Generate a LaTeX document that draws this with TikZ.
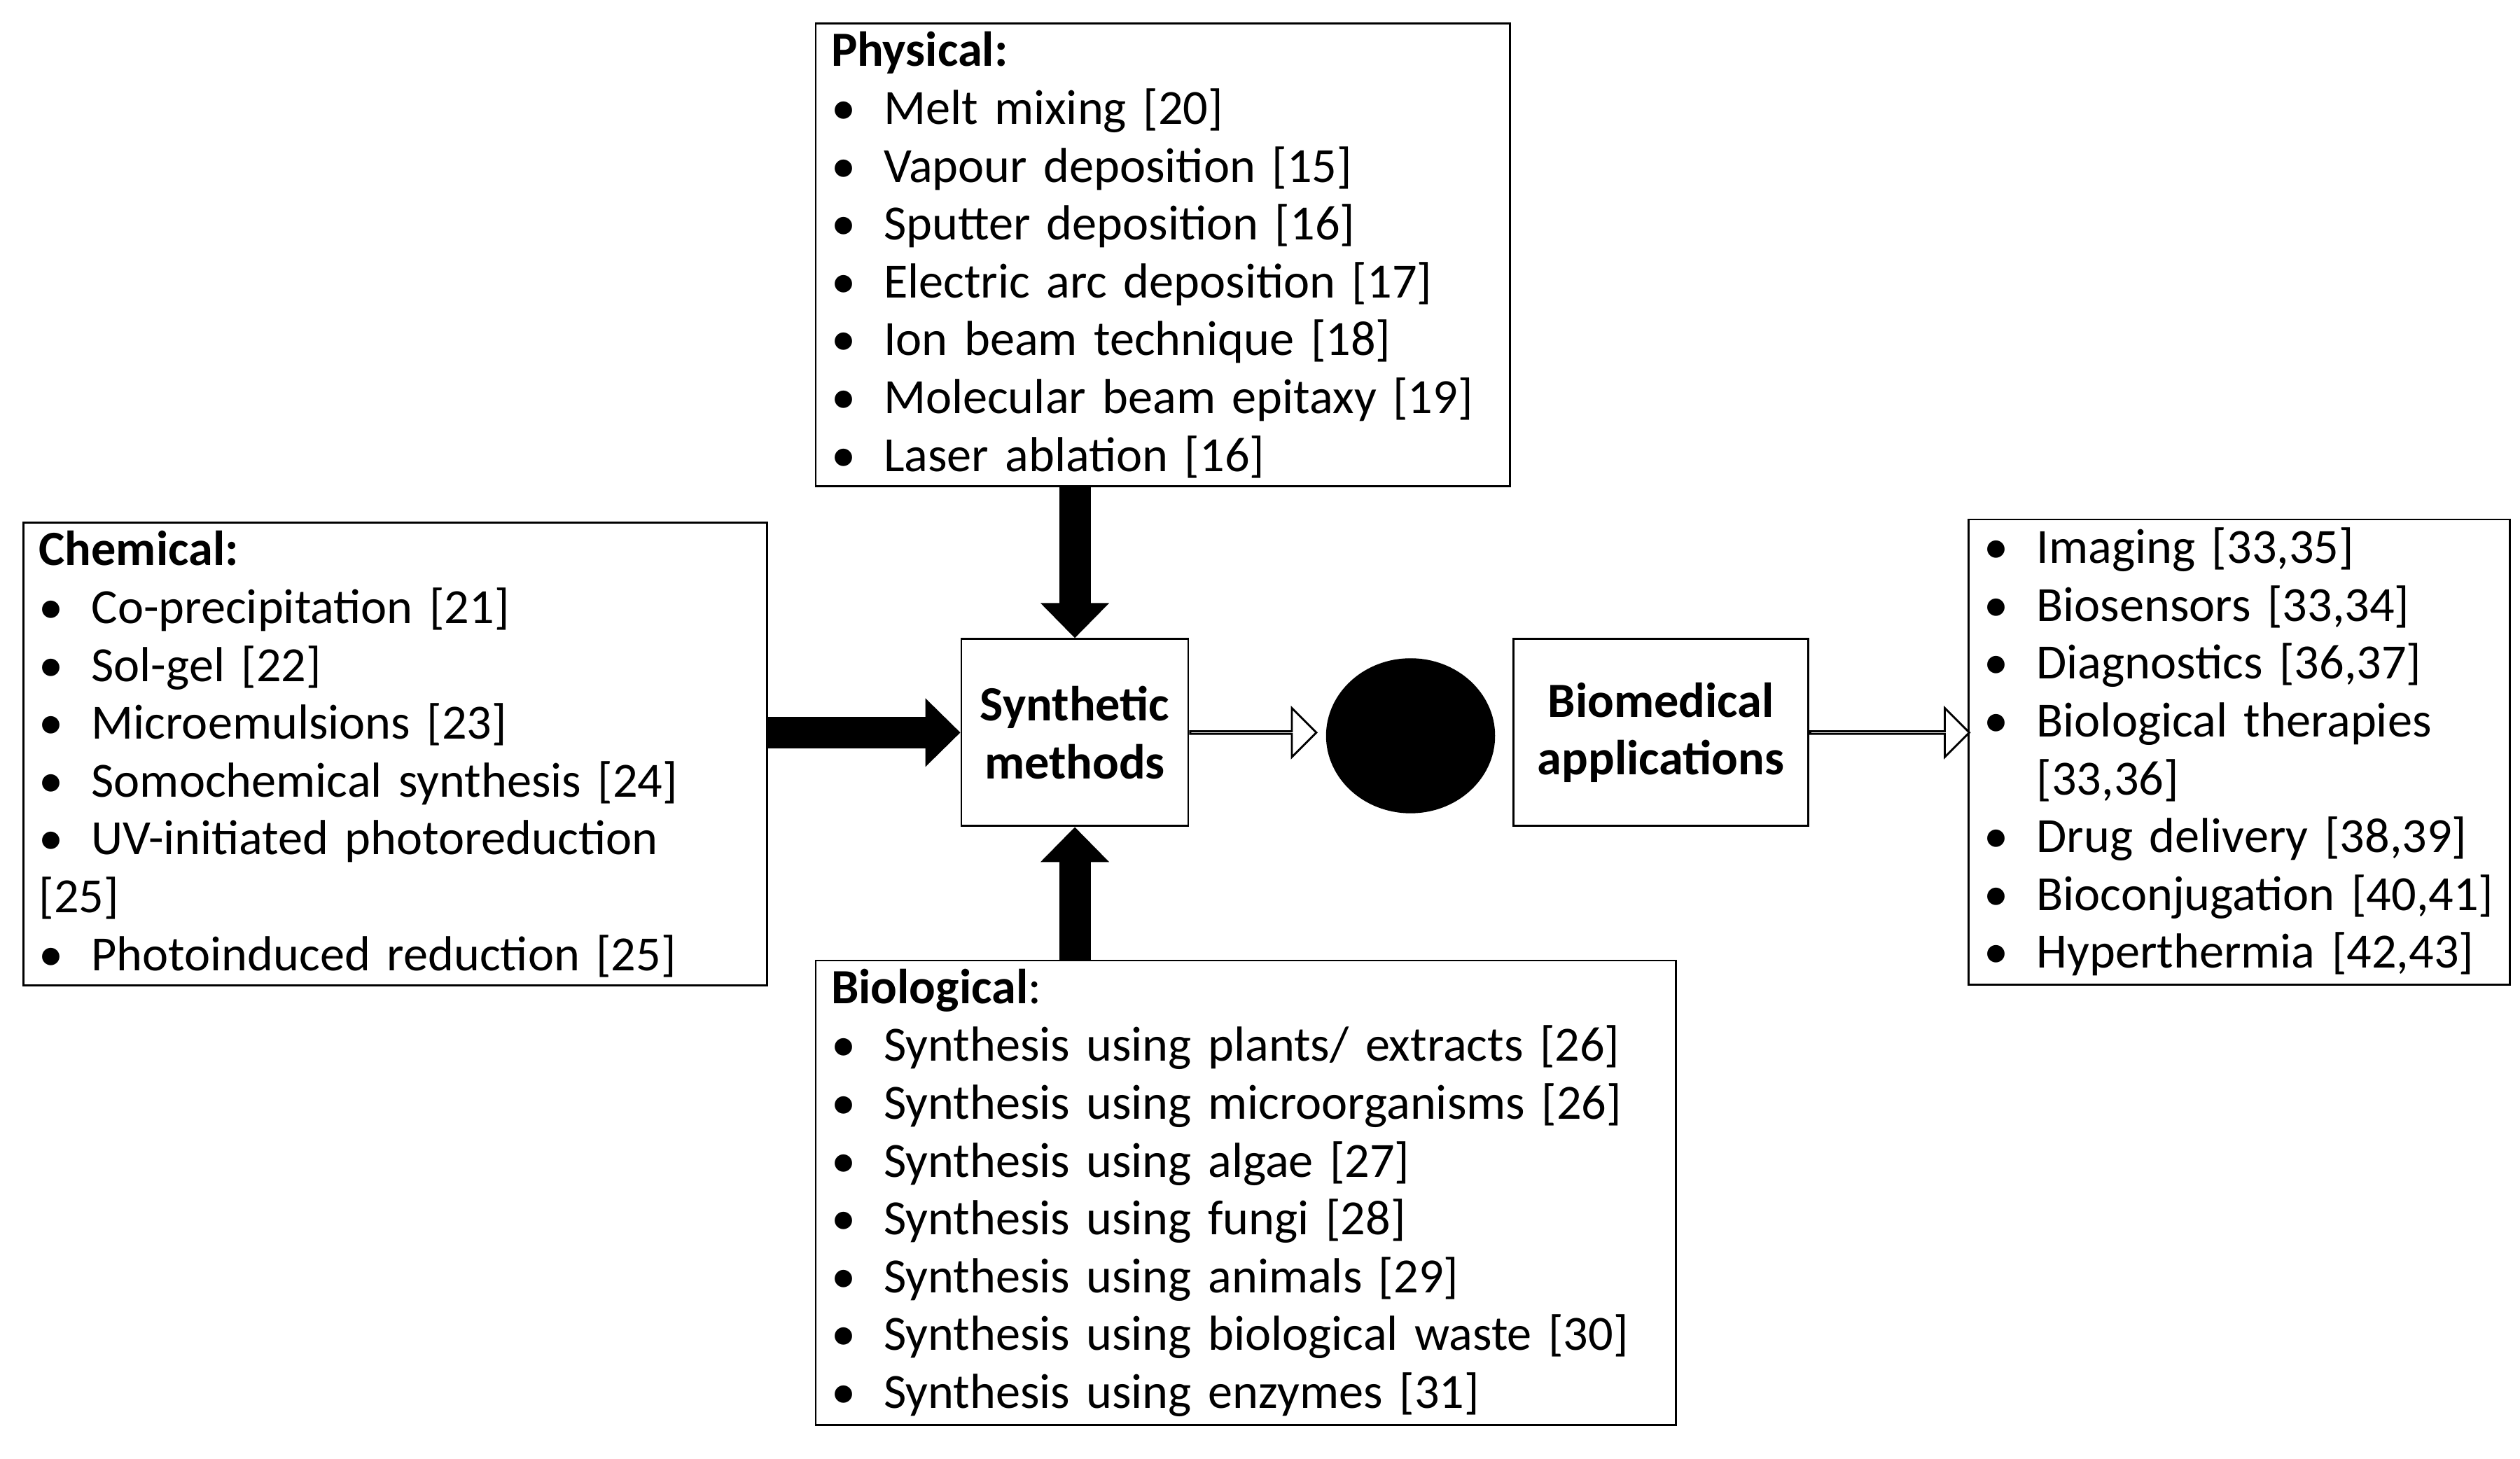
\documentclass[tikz,border=0pt]{standalone}
\usepackage{fontspec}
\setmainfont{Carlito}
\usetikzlibrary{arrows.meta,shapes.arrows,shapes.geometric}
\newcommand{\itm}[1]{\makebox[0.75cm][l]{\textbullet}#1}

\tikzset{
  list/.style={draw, line width=0.8pt, rectangle, anchor=north west, align=left,
    inner xsep=0.22cm, inner ysep=0.12cm, font=\fontsize{20}{23.5}\selectfont},
  mid/.style={draw, line width=0.8pt, rectangle, align=center,
    font=\bfseries\fontsize{20}{23.5}\selectfont},
  bigarrow/.style={line width=0.45cm, -{Triangle[length=0.5cm,width=0.95cm]}},
  hollow/.style={draw, line width=0.8pt, fill=white, single arrow, single arrow head extend=0.26cm,
    minimum height=1.8cm, minimum width=0.7cm, inner sep=0pt}
}

\begin{document}
\begin{tikzpicture}[x=0.023cm,y=-0.023cm]
  \useasboundingbox (0,0) rectangle (1565,906);

  \node[list, text width=9.47cm] (phys) at (506,14) {\textbf{Physical:}\\
    \itm{Melt mixing [20]}\\
    \itm{Vapour deposition [15]}\\
    \itm{Sputter deposition [16]}\\
    \itm{Electric arc deposition [17]}\\
    \itm{Ion beam technique [18]}\\
    \itm{Molecular beam epitaxy [19]}\\
    \itm{Laser ablation [16]}};

  \node[list, text width=10.18cm] (chem) at (14,324) {\textbf{Chemical:}\\
    \itm{Co-precipitation [21]}\\
    \itm{Sol-gel [22]}\\
    \itm{Microemulsions [23]}\\
    \itm{Somochemical synthesis [24]}\\
    \itm{UV-initiated photoreduction [25]}\\
    \itm{Photoinduced reduction [25]}};

  \node[list, text width=11.84cm] (bio) at (506,596) {\textbf{Biological}:\\
    \itm{Synthesis using plants/ extracts [26]}\\
    \itm{Synthesis using microorganisms [26]}\\
    \itm{Synthesis using algae [27]}\\
    \itm{Synthesis using fungi [28]}\\
    \itm{Synthesis using animals [29]}\\
    \itm{Synthesis using biological waste [30]}\\
    \itm{Synthesis using enzymes [31]}};

  \node[list, text width=7.29cm] (apps) at (1222,322) {\itm{Imaging [33,35]}\\
    \itm{Biosensors [33,34]}\\
    \itm{Diagnostics [36,37]}\\
    \itm{Biological therapies}\\
    \hspace*{0.75cm}[33,36]\\
    \itm{Drug delivery [38,39]}\\
    \itm{Bioconjugation [40,41]}\\
    \itm{Hyperthermia [42,43]}};

  \node[mid, minimum width=3.24cm, minimum height=2.67cm] (syn) at (667.5,455) {Synthetic\\methods};
  \node[mid, minimum width=4.21cm, minimum height=2.67cm] (bmed) at (1031.5,455) {Biomedical\\applications};
  \node[draw, fill=black, ellipse, minimum width=2.4cm, minimum height=2.2cm] (np) at (876,457) {};

  \draw[bigarrow] (phys.south -| syn.north) -- (syn.north);
  \draw[bigarrow] (bio.north -| syn.south) -- (syn.south);
  \draw[bigarrow] (chem.east |- syn.west) -- (syn.west);

  \node[hollow, anchor=west] (a1) at (syn.east) {};
  \node[hollow, anchor=west, minimum height=2.27cm] (a2) at (bmed.east) {};
\end{tikzpicture}
\end{document}
